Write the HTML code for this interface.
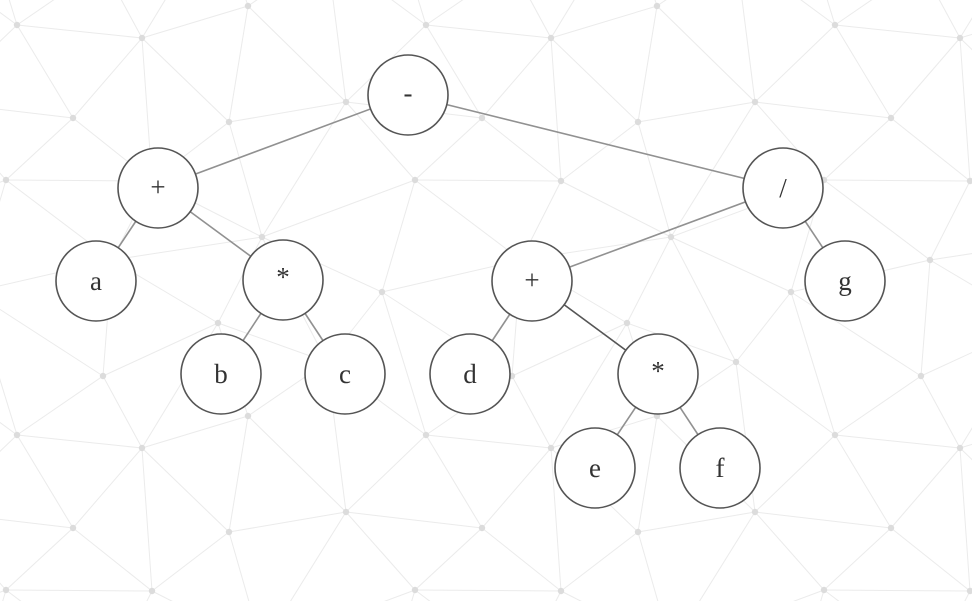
<!DOCTYPE html>
<html><head><meta charset="utf-8"><style>
html,body{margin:0;padding:0;background:#fff;width:972px;height:601px;overflow:hidden;}
svg{display:block;}
text{font-family:"Liberation Serif",serif;font-size:27px;fill:#333;text-anchor:middle;dominant-baseline:central;}
</style></head><body>
<svg id="s" width="972" height="601" viewBox="0 0 972 601" xmlns="http://www.w3.org/2000/svg">
<g id="mesh" stroke="#ebebeb" stroke-width="1"></g>
<g id="dots" fill="#dcdcdc"></g>
<g stroke="#919191" stroke-width="1.6">
<line x1="408" y1="95" x2="158" y2="188"/>
<line x1="408" y1="95" x2="783" y2="188"/>
<line x1="158" y1="188" x2="96" y2="281"/>
<line x1="158" y1="188" x2="283" y2="280"/>
<line x1="283" y1="280" x2="221" y2="374"/>
<line x1="283" y1="280" x2="345" y2="374"/>
<line x1="783" y1="188" x2="532" y2="281"/>
<line x1="783" y1="188" x2="845" y2="281"/>
<line x1="532" y1="281" x2="470" y2="374"/>
<line x1="532" y1="281" x2="658" y2="374" stroke="#555"/>
<line x1="658" y1="374" x2="595" y2="468"/>
<line x1="658" y1="374" x2="720" y2="468"/>
</g>
<g fill="#fff" stroke="#555" stroke-width="1.6">
<circle cx="408" cy="95" r="40"/>
<circle cx="158" cy="188" r="40"/>
<circle cx="783" cy="188" r="40"/>
<circle cx="96" cy="281" r="40"/>
<circle cx="283" cy="280" r="40"/>
<circle cx="532" cy="281" r="40"/>
<circle cx="845" cy="281" r="40"/>
<circle cx="221" cy="374" r="40"/>
<circle cx="345" cy="374" r="40"/>
<circle cx="470" cy="374" r="40"/>
<circle cx="658" cy="374" r="40"/>
<circle cx="595" cy="468" r="40"/>
<circle cx="720" cy="468" r="40"/>
</g>
<text x="408" y="93">-</text>
<text x="158" y="187">+</text>
<text x="783" y="188">/</text>
<text x="96" y="281">a</text>
<text x="283" y="277">*</text>
<text x="532" y="280">+</text>
<text x="845" y="281">g</text>
<text x="221" y="374">b</text>
<text x="345" y="374">c</text>
<text x="470" y="374">d</text>
<text x="658" y="371">*</text>
<text x="595" y="468">e</text>
<text x="720" y="468">f</text>
</svg>
<script>
(function(){
var T=[[17,25],[142,38],[248,6],[73,118],[229,122],[346,102],[6,180],[152,181],[262,237],[382,292],[112,260],[218,323],[103,376],[327,362]];
var P=[];
for(var tx=-1;tx<=3;tx++)for(var ty=-1;ty<=2;ty++)for(var i=0;i<T.length;i++)P.push([T[i][0]+409*tx,T[i][1]+410*ty]);
var n=P.length;
P.push([-10000,-10000],[10000,-10000],[0,10000]);
function cc(a,b,c){var ax=P[a][0],ay=P[a][1],bx=P[b][0],by=P[b][1],cx=P[c][0],cy=P[c][1];
var d=2*(ax*(by-cy)+bx*(cy-ay)+cx*(ay-by));
var ux=((ax*ax+ay*ay)*(by-cy)+(bx*bx+by*by)*(cy-ay)+(cx*cx+cy*cy)*(ay-by))/d;
var uy=((ax*ax+ay*ay)*(cx-bx)+(bx*bx+by*by)*(ax-cx)+(cx*cx+cy*cy)*(bx-ax))/d;
return [ux,uy,(ax-ux)*(ax-ux)+(ay-uy)*(ay-uy)];}
var tris=[[n,n+1,n+2,cc(n,n+1,n+2)]];
for(var p=0;p<n;p++){
var x=P[p][0],y=P[p][1],bad=[],keep=[];
for(var t=0;t<tris.length;t++){var c=tris[t][3];if((x-c[0])*(x-c[0])+(y-c[1])*(y-c[1])<c[2])bad.push(tris[t]);else keep.push(tris[t]);}
var ec={};
bad.forEach(function(tr){[[tr[0],tr[1]],[tr[1],tr[2]],[tr[2],tr[0]]].forEach(function(e){var k=Math.min(e[0],e[1])+'_'+Math.max(e[0],e[1]);ec[k]=(ec[k]||0)+1;});});
bad.forEach(function(tr){[[tr[0],tr[1]],[tr[1],tr[2]],[tr[2],tr[0]]].forEach(function(e){var k=Math.min(e[0],e[1])+'_'+Math.max(e[0],e[1]);if(ec[k]==1)keep.push([e[0],e[1],p,cc(e[0],e[1],p)]);});});
tris=keep;}
var seen={},ns='http://www.w3.org/2000/svg',g=document.getElementById('mesh'),dg=document.getElementById('dots');
tris.forEach(function(tr){[[tr[0],tr[1]],[tr[1],tr[2]],[tr[2],tr[0]]].forEach(function(e){
if(e[0]>=n||e[1]>=n)return;var k=Math.min(e[0],e[1])+'_'+Math.max(e[0],e[1]);if(seen[k])return;seen[k]=1;
var a=P[e[0]],b=P[e[1]];if(Math.max(a[0],b[0])<-20||Math.min(a[0],b[0])>990||Math.max(a[1],b[1])<-20||Math.min(a[1],b[1])>620)return;
var l=document.createElementNS(ns,'line');l.setAttribute('x1',a[0]);l.setAttribute('y1',a[1]);l.setAttribute('x2',b[0]);l.setAttribute('y2',b[1]);g.appendChild(l);});});
for(var i=0;i<n;i++){var q=P[i];if(q[0]<-10||q[0]>985||q[1]<-10||q[1]>615)continue;var c=document.createElementNS(ns,'circle');c.setAttribute('cx',q[0]);c.setAttribute('cy',q[1]);c.setAttribute('r',3.2);dg.appendChild(c);}
})();
</script>
</body></html>
